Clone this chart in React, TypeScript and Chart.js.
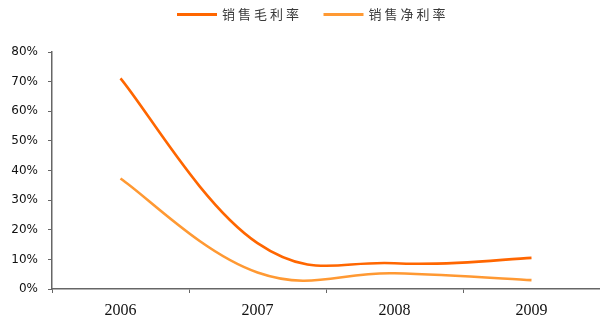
import React, { useEffect, useRef } from "react";
import { Chart, registerables } from "chart.js";

Chart.register(...registerables);

const categories = ["2006", "2007", "2008", "2009"];
const grossMargin = [71.1, 15.5, 8.7, 10.5];
const netMargin = [37.3, 5.6, 5.3, 3.0];
const seriesNames = ["销售毛利率", "销售净利率"];
const yTicks = [0, 10, 20, 30, 40, 50, 60, 70, 80];

const GROSS_COLOR = "#FF6600";
const NET_COLOR = "#FF9933";
const AXIS_COLOR = "#666666";

// Excel-style smoothing: Bezier control points from neighbouring points
const SMOOTH_K = 0.2;
const smoothPlugin = {
  id: "excelSmooth",
  beforeDatasetDraw(chart: any, args: any) {
    const meta = args.meta;
    const line = meta.dataset;
    if (line && line.updateControlPoints) line.updateControlPoints(chart.chartArea, meta.indexAxis);
    const pts = meta.data;
    const n = pts.length;
    for (let i = 0; i < n; i++) {
      const p = pts[i];
      const prev = pts[Math.max(i - 1, 0)];
      const next = pts[Math.min(i + 1, n - 1)];
      const dx = (next.x - prev.x) * SMOOTH_K;
      const dy = (next.y - prev.y) * SMOOTH_K;
      p.cp1x = p.x - dx;
      p.cp1y = p.y - dy;
      p.cp2x = p.x + dx;
      p.cp2y = p.y + dy;
    }
  },
};

const legendPlugin = {
  id: "customLegend",
  afterDraw(chart: any) {
    const ctx = chart.ctx;
    const starts = [177, 323.5];
    ctx.save();
    ctx.font = '13px "Noto Sans CJK SC"';
    ctx.textBaseline = "middle";
    chart.data.datasets.forEach((ds: any, i: number) => {
      const x = starts[i];
      const y = 14.5;
      ctx.strokeStyle = ds.borderColor;
      ctx.lineWidth = 3;
      ctx.beginPath();
      ctx.moveTo(x, y);
      ctx.lineTo(x + 40, y);
      ctx.stroke();
      ctx.fillStyle = "#3a3a3a";
      const label: string = ds.label;
      let cx = x + 45;
      for (const ch of label) {
        ctx.fillText(ch, cx, y);
        cx += 16;
      }
    });
    ctx.restore();
  },
};

export default function App() {
  const ref = useRef<HTMLCanvasElement | null>(null);
  useEffect(() => {
    if (!ref.current) return;
    const chart = new Chart(ref.current, {
      type: "line",
      data: {
        labels: categories,
        datasets: [
          {
            label: seriesNames[0],
            data: grossMargin,
            borderColor: GROSS_COLOR,
            backgroundColor: GROSS_COLOR,
            borderWidth: 2.6,
            pointRadius: 0,
            tension: 0.5,
            fill: false,
          },
          {
            label: seriesNames[1],
            data: netMargin,
            borderColor: NET_COLOR,
            backgroundColor: NET_COLOR,
            borderWidth: 2.6,
            pointRadius: 0,
            tension: 0.5,
            fill: false,
          },
        ],
      },
      options: {
        responsive: false,
        animation: false,
        layout: { padding: { top: 52, right: 0, left: 0, bottom: 0 } },
        plugins: {
          legend: { display: false },
          tooltip: { enabled: false },
        },
        scales: {
          x: {
            offset: true,
            grid: {
              offset: true,
              drawOnChartArea: false,
              drawTicks: true,
              tickLength: 4,
              color: AXIS_COLOR,
            },
            border: { color: AXIS_COLOR, width: 1.5 },
            ticks: {
              color: "#111",
              font: { family: "Liberation Serif", size: 16 },
              padding: 8,
              maxRotation: 0,
            },
            afterFit(scale: any) {
              scale.height = 31;
            },
          },
          y: {
            min: 0,
            max: 80,
            afterBuildTicks(scale: any) {
              scale.ticks = yTicks.map((v) => ({ value: v }));
            },
            grid: {
              drawOnChartArea: false,
              drawTicks: true,
              tickLength: 4,
              color: AXIS_COLOR,
            },
            border: { color: AXIS_COLOR, width: 1.5 },
            ticks: {
              color: "#111",
              font: { family: "DejaVu Sans", size: 12 },
              padding: 10,
              callback: (v: any) => `${v}%`,
            },
            afterFit(scale: any) {
              scale.width = 52;
            },
          },
        },
      },
      plugins: [smoothPlugin, legendPlugin],
    });
    return () => chart.destroy();
  }, []);
  return (
    <div style={{ position: "fixed", left: 0, top: 0, width: 600, height: 320, background: "#fff" }}>
      <canvas ref={ref} width={600} height={320} />
    </div>
  );
}
